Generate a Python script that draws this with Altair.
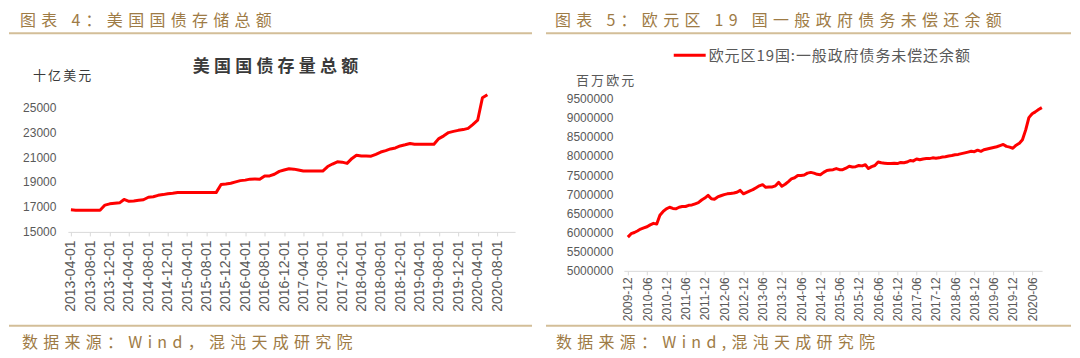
import altair as alt
import pandas as pd

# ---------------- data ----------------
# Left: US Treasury debt outstanding, monthly from 2013-04 (billion USD)
us_start = "2013-04-01"
us_debt = [
    16770, 16740, 16740, 16740, 16740, 16740, 16740, 17150, 17250,
    17290, 17330, 17600, 17450, 17480, 17530, 17580, 17780, 17820, 17930, 17990, 18060,
    18100, 18150, 18150, 18150, 18150, 18150, 18150, 18150, 18150, 18150, 18800, 18840,
    18900, 19010, 19110, 19150, 19230, 19240, 19220, 19480, 19490, 19620, 19850, 19960,
    20060, 20030, 19960, 19880, 19880, 19880, 19880, 19880, 20240, 20440, 20620, 20590,
    20490, 20890, 21150, 21090, 21080, 21070, 21220, 21400, 21520, 21650, 21730, 21890,
    21980, 22080, 22030, 22030, 22030, 22030, 22030, 22480, 22700, 22960, 23060, 23140,
    23200, 23300, 23600, 23950, 25750, 26000,
]
us_xticks = [
    "2013-04-01", "2013-08-01", "2013-12-01", "2014-04-01", "2014-08-01", "2014-12-01",
    "2015-04-01", "2015-08-01", "2015-12-01", "2016-04-01", "2016-08-01", "2016-12-01",
    "2017-04-01", "2017-08-01", "2017-12-01", "2018-04-01", "2018-08-01", "2018-12-01",
    "2019-04-01", "2019-08-01", "2019-12-01", "2020-04-01", "2020-08-01",
]
us_yticks = [15000, 17000, 19000, 21000, 23000, 25000]

# Right: euro area 19 general government debt, monthly from 2009-12 (million EUR)
ea_start = "2009-12-01"
ea_debt = [
    5880000,
    5970000, 6000000, 6040000, 6090000, 6120000, 6150000, 6200000, 6240000, 6220000, 6450000, 6550000, 6620000,
    6660000, 6630000, 6620000, 6660000, 6680000, 6680000, 6710000, 6720000, 6750000, 6780000, 6850000, 6900000,
    6970000, 6880000, 6870000, 6930000, 6960000, 6990000, 7010000, 7020000, 7030000, 7050000, 7100000, 7010000,
    7050000, 7090000, 7120000, 7170000, 7220000, 7250000, 7180000, 7190000, 7190000, 7220000, 7310000, 7210000,
    7260000, 7330000, 7400000, 7430000, 7490000, 7490000, 7500000, 7550000, 7570000, 7550000, 7520000, 7510000,
    7570000, 7620000, 7630000, 7640000, 7670000, 7640000, 7640000, 7680000, 7730000, 7710000, 7720000, 7750000,
    7740000, 7770000, 7670000, 7720000, 7750000, 7840000, 7820000, 7810000, 7800000, 7800000, 7810000, 7800000,
    7830000, 7820000, 7840000, 7880000, 7870000, 7920000, 7900000, 7920000, 7930000, 7930000, 7950000, 7940000,
    7950000, 7970000, 7980000, 8000000, 8010000, 8030000, 8040000, 8060000, 8080000, 8100000, 8120000, 8110000,
    8150000, 8120000, 8160000, 8180000, 8200000, 8220000, 8240000, 8270000, 8300000, 8250000, 8230000, 8200000,
    8280000, 8330000, 8420000, 8680000, 9000000, 9100000, 9150000, 9210000, 9260000,
]
ea_xticks = [
    "2009-12", "2010-06", "2010-12", "2011-06", "2011-12", "2012-06", "2012-12",
    "2013-06", "2013-12", "2014-06", "2014-12", "2015-06", "2015-12", "2016-06",
    "2016-12", "2017-06", "2017-12", "2018-06", "2018-12", "2019-06", "2019-12", "2020-06",
]
ea_yticks = [5000000, 5500000, 6000000, 6500000, 7000000, 7500000, 8000000, 8500000, 9000000, 9500000]

left_title = "图表 4：美国国债存储总额"
left_inner_title = "美国国债存量总额"
left_unit = "十亿美元"
left_source = "数据来源：Wind，混沌天成研究院"

right_title = "图表 5：欧元区 19 国一般政府债务未偿还余额"
right_legend = "欧元区19国:一般政府债务未偿还余额"
right_unit = "百万欧元"
right_source = "数据来源：Wind,混沌天成研究院"

# ---------------- styling ----------------
GOLD = "#9E7B45"
RULE = "#D3BE98"
GREY = "#595959"
RED = "#FF0000"
CJK = "Noto Sans CJK SC"
NUM = "Liberation Sans"


def spaced(s, sp):
    return sp.join(list(s))


def ms(s):
    return int(pd.Timestamp(s, tz="UTC").timestamp() * 1000)


one = pd.DataFrame({"k": [0]})


def text_layer(txt, x, y, size, color, align="left", weight="normal"):
    return alt.Chart(pd.DataFrame({"t": [txt]})).mark_text(
        align=align, baseline="middle", font=CJK, fontSize=size,
        color=color, fontWeight=weight,
    ).encode(x=alt.value(x), y=alt.value(y), text="t:N")


def hrule(x1, x2, y, color, w):
    return alt.Chart(one).mark_rule(color=color, strokeWidth=w).encode(
        x=alt.value(x1), x2=alt.value(x2), y=alt.value(y)
    )


def bg(x1, x2, y1, y2):
    return alt.Chart(one).mark_rect(fill="white").encode(
        x=alt.value(x1), x2=alt.value(x2), y=alt.value(y1), y2=alt.value(y2)
    )


# Both plot areas start at page y = 82 (hconcat aligns plot tops)

# ---------------- left panel ----------------
us_df = pd.DataFrame({
    "date": pd.date_range(us_start, periods=len(us_debt), freq="MS").strftime("%Y-%m-%d"),
    "value": us_debt,
})

LW, LH = 448, 150
us_line = alt.Chart(us_df).mark_line(color=RED, strokeWidth=3, strokeJoin="round").encode(
    x=alt.X("date:T", title=None,
            scale=alt.Scale(type="utc", domain=[ms("2013-03-13"), ms("2020-11-22")], nice=False),
            axis=alt.Axis(values=[ms(t) for t in us_xticks],
                          labelExpr="utcFormat(datum.value, '%Y-%m-%d')",
                          labelAngle=270, labelFont=NUM, labelFontSize=14, labelColor=GREY,
                          domainColor="#D9D9D9", tickColor="#D9D9D9", tickSize=4,
                          labelPadding=4, grid=False, labelOverlap=False, zindex=1)),
    y=alt.Y("value:Q", title=None,
            scale=alt.Scale(domain=[15000, 27000], nice=False, zero=False),
            axis=alt.Axis(values=us_yticks, format="d", grid=False, domain=False, ticks=False,
                          labelPadding=12, labelFont=NUM, labelFontSize=12, labelColor=GREY,
                          zindex=1)),
)

left = alt.layer(
    bg(-59, 471, -74, 274),
    text_layer(spaced(left_title, "\u2004"), -48, -61, 16, GOLD),
    hrule(-59, 465, -49, RULE, 2),
    text_layer(spaced(left_inner_title, "\u2005"), 208, -15, 17, "#3A3A3A", align="center", weight="bold"),
    text_layer(spaced(left_unit, "\u2006"), -35, -6, 13, "#3A3A3A"),
    us_line,
    hrule(-59, 465, 244, RULE, 2),
    text_layer(spaced(left_source, "\u2004"), -46, 261, 16, GOLD),
).properties(width=LW, height=LH)

# ---------------- right panel ----------------
ea_df = pd.DataFrame({
    "date": pd.date_range(ea_start, periods=len(ea_debt), freq="MS").strftime("%Y-%m-%d"),
    "value": ea_debt,
})

RW, RH = 419, 189
ea_line = alt.Chart(ea_df).mark_line(color=RED, strokeWidth=3, strokeJoin="round").encode(
    x=alt.X("date:T", title=None,
            scale=alt.Scale(type="utc", domain=[ms("2009-10-24"), ms("2020-09-03")], nice=False),
            axis=alt.Axis(values=[ms(t + "-01") for t in ea_xticks],
                          labelExpr="utcFormat(datum.value, '%Y-%m')",
                          labelAngle=270, labelFont=NUM, labelFontSize=12, labelColor=GREY,
                          domainColor="#D9D9D9", tickColor="#D9D9D9", tickSize=4,
                          labelPadding=2, grid=False, labelOverlap=False, zindex=1)),
    y=alt.Y("value:Q", title=None,
            scale=alt.Scale(domain=[5000000, 9925000], nice=False, zero=False),
            axis=alt.Axis(values=ea_yticks, format="d", grid=False, domain=False, ticks=False,
                          labelPadding=11, labelFont=NUM, labelFontSize=12, labelColor=GREY,
                          zindex=1)),
)

right = alt.layer(
    bg(-84, 448, -74, 274),
    text_layer(spaced(right_title, "\u2004"), -69, -61, 16, GOLD),
    hrule(-78, 448, -49, RULE, 2),
    alt.Chart(one).mark_rule(color=RED, strokeWidth=3).encode(
        x=alt.value(50), x2=alt.value(82), y=alt.value(-27)),
    text_layer(spaced(right_legend, "\u200a"), 85, -26, 15, GREY),
    text_layer(spaced(right_unit, "\u2006"), -48, -1, 13, GREY),
    ea_line,
    hrule(-78, 448, 244, RULE, 2),
    text_layer(spaced(right_source, "\u2004"), -68, 261, 16, GOLD),
).properties(width=RW, height=RH)

chart = alt.hconcat(left, right, spacing=2).properties(
    padding=0, background="white"
).configure_view(stroke=None)

chart.save("out.html", embed_options={"renderer": "svg", "actions": False})
